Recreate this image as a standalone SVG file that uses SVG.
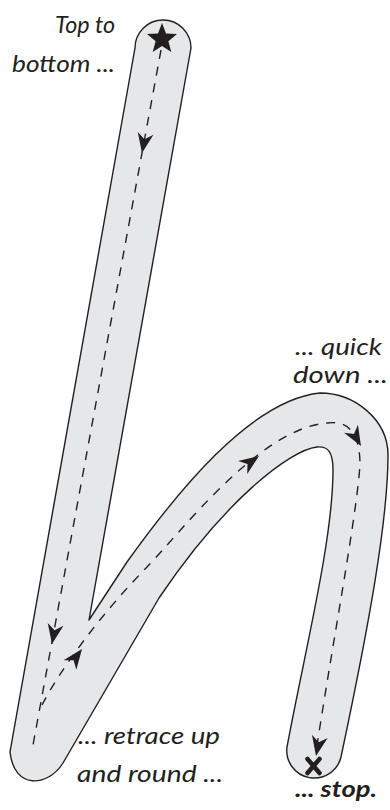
<svg xmlns="http://www.w3.org/2000/svg" xmlns:xlink="http://www.w3.org/1999/xlink" width="390" height="810" viewBox="0 0 390 810">
<style>
.lbl{font-family:Lato,"Liberation Sans","DejaVu Sans",sans-serif;font-style:italic;font-weight:400;font-size:23px;fill:#231f20}
.dash{fill:none;stroke:#231f20;stroke-width:1.4;stroke-dasharray:9 8}
.ah{fill:#231f20}
</style>
<defs>
<path id="ah" d="M0,0 L-20,-8 L-14,0 L-20,8 Z"/>
</defs>
<rect width="390" height="810" fill="#ffffff"/>
<g id="letter-h">
<path d="M135,48 A28,28 0 0 1 191,48 L89,620 L127,562 C175,495 250,400 320,393 C355,393 388,420 388,455 C388,520 369,625 341,757 A27.5,27.5 0 0 1 287,747 C305,650 333,540 333,470 C333,452 328,446 317,447 C290,450 225,500 159,598 L63,763 C48,787 14,790 10,752 Z" fill="#e6e7e8" stroke="#231f20" stroke-width="1.4" stroke-linejoin="round"/>
</g>
<g id="connectors">
<path class="dash" d="M161,50 L33,745"/>
<path class="dash" d="M42,705 C60,670 100,615 147,567 C182,531 260,428 327,423 C350,420 360,435 360,465 C356,520 333,640 316,752"/>
<use xlink:href="#ah" class="ah" transform="translate(142,153) rotate(100.4)"/>
<use xlink:href="#ah" class="ah" transform="translate(52,644) rotate(100.4)"/>
<use xlink:href="#ah" class="ah" transform="translate(82,649) rotate(-53)"/>
<use xlink:href="#ah" class="ah" transform="translate(259,456) rotate(-35)"/>
<use xlink:href="#ah" class="ah" transform="translate(361,446) rotate(60)"/>
<use xlink:href="#ah" class="ah" transform="translate(316,756) rotate(101)"/>
</g>
<g id="start-star">
<polygon fill="#231f20" points="162,23 166.0,33.5 177.0,34.1 168.4,41.2 171.3,51.9 162,46 152.7,51.9 155.6,41.2 147.0,34.1 158.0,33.5"/>
</g>
<g id="end-cross">
<path d="M307.5,759 L319.5,773 M319.5,759 L307.5,773" stroke="#231f20" stroke-width="4.5" stroke-linecap="round" fill="none"/>
</g>
<g id="labels">
<text class="lbl" x="55" y="33" textLength="60" lengthAdjust="spacingAndGlyphs">Top to</text>
<text class="lbl" x="12" y="72" textLength="103" lengthAdjust="spacingAndGlyphs">bottom ...</text>
<text class="lbl" x="295" y="355" textLength="87" lengthAdjust="spacingAndGlyphs">... quick</text>
<text class="lbl" x="293" y="383" textLength="95" lengthAdjust="spacingAndGlyphs">down ...</text>
<text class="lbl" x="78" y="744" textLength="142" lengthAdjust="spacingAndGlyphs">... retrace up</text>
<text class="lbl" x="77" y="782" textLength="146" lengthAdjust="spacingAndGlyphs">and round ...</text>
<text class="lbl" x="295" y="797" textLength="82" lengthAdjust="spacingAndGlyphs" style="font-weight:700">... stop.</text>
</g>
</svg>
